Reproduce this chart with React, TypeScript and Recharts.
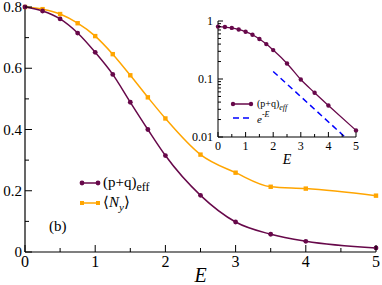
import React from 'react';
import { LineChart, Line, XAxis, YAxis, Label, Customized } from 'recharts';

// ---- data ----
const energies = [0, 0.25, 0.5, 0.75, 1, 1.25, 1.5, 1.75, 2, 2.5, 3, 3.5, 4, 5];
const pqEff = [0.8, 0.787, 0.761, 0.715, 0.652, 0.58, 0.489, 0.4, 0.315, 0.185, 0.098, 0.058, 0.035, 0.013];
const nY = [0.8, 0.793, 0.777, 0.747, 0.705, 0.646, 0.577, 0.505, 0.436, 0.318, 0.259, 0.213, 0.207, 0.184];
const expE = [2, 4.6];
const expVals = [0.135, 0.01];

const mainXTicks = [0, 0.5, 1, 1.5, 2, 2.5, 3, 3.5, 4, 4.5, 5];
const mainXMajors = [0, 1, 2, 3, 4, 5];
const mainYTicks = [0, 0.1, 0.2, 0.3, 0.4, 0.5, 0.6, 0.7, 0.8];
const mainYMajors = [0, 0.2, 0.4, 0.6, 0.8];
const insetXTicks = [0, 0.5, 1, 1.5, 2, 2.5, 3, 3.5, 4, 4.5, 5];
const insetXMajors = [0, 1, 2, 3, 4, 5];
const insetYTicks = [0.01, 0.02, 0.03, 0.04, 0.05, 0.06, 0.07, 0.08, 0.09, 0.1, 0.2, 0.3, 0.4, 0.5, 0.6, 0.7, 0.8, 0.9, 1];
const insetYMajors = [0.01, 0.1, 1];

const mainData = energies.map((e, i) => ({ E: e, pq: pqEff[i], ny: nY[i] }));
const insetData = energies.map((e, i) => ({ E: e, pq: pqEff[i] }));
const expData = expE.map((e, i) => ({ E: e, v: expVals[i] }));

const FONT = 'Liberation Serif';
const PURPLE = '#67084a';
const ORANGE = '#ffa500';
const BLUE = '#0000ff';

type Side = 'bottom' | 'top' | 'left' | 'right';
interface TickCfg {
  side: Side;
  edge: number;
  majors: number[];
  major: number;
  minor: number;
  fmt?: (v: number) => string;
  fontSize?: number;
  gap?: number;
}

function makeTick(cfg: TickCfg) {
  return (props: any) => {
    const c: number = props.payload.coordinate;
    const v: number = props.payload.value;
    const isMajor = cfg.majors.some((m) => Math.abs(m - v) < 1e-9);
    const len = isMajor ? cfg.major : cfg.minor;
    const fs = cfg.fontSize ?? 16;
    const gap = cfg.gap ?? 4;
    let line: React.ReactNode = null;
    let label: React.ReactNode = null;
    const showLabel = isMajor && cfg.fmt;
    if (cfg.side === 'bottom') {
      line = <line x1={c} x2={c} y1={cfg.edge} y2={cfg.edge - len} stroke="#000" strokeWidth={1} />;
      if (showLabel)
        label = (
          <text x={c} y={cfg.edge + gap} textAnchor="middle" fontSize={fs} fontFamily={FONT} fill="#000">
            {cfg.fmt!(v)}
          </text>
        );
    } else if (cfg.side === 'top') {
      line = <line x1={c} x2={c} y1={cfg.edge} y2={cfg.edge + len} stroke="#000" strokeWidth={1} />;
    } else if (cfg.side === 'left') {
      line = <line x1={cfg.edge} x2={cfg.edge + len} y1={c} y2={c} stroke="#000" strokeWidth={1} />;
      if (showLabel)
        label = (
          <text x={cfg.edge - gap} y={c + fs * 0.34} textAnchor="end" fontSize={fs} fontFamily={FONT} fill="#000">
            {cfg.fmt!(v)}
          </text>
        );
    } else {
      line = <line x1={cfg.edge} x2={cfg.edge - len} y1={c} y2={c} stroke="#000" strokeWidth={1} />;
    }
    return (
      <g key={`${cfg.side}-${v}`}>
        {line}
        {label}
      </g>
    );
  };
}

// main plot box
const ML = 25, MR = 376, MT = 7, MB = 252;
// inset plot box (inset chart coords)
const IL = 28, IR = 166, IT = 11, IB = 127;

const mainFmtY = (v: number) => (v === 0 ? '0' : v.toFixed(1));
const intFmt = (v: number) => String(v);
const logFmt = (v: number) => (v >= 1 ? '1' : v >= 0.1 ? '0.1' : '0.01');

const SquareDot = (props: any) => {
  const { cx, cy, index } = props;
  if (cx == null || cy == null) return <g key={`sq-${index}`} />;
  return <rect key={`sq-${index}`} x={cx - 2.2} y={cy - 2.2} width={4.4} height={4.4} fill={ORANGE} />;
};

const MainLegend = () => (
  <g fontFamily={FONT}>
    <line x1={82} x2={98} y1={183} y2={183} stroke={PURPLE} strokeWidth={1.5} />
    <circle cx={82} cy={183} r={2.4} fill={PURPLE} />
    <circle cx={98} cy={183} r={2.4} fill={PURPLE} />
    <text x={103} y={187} fontSize={15} fontFamily={FONT} fill="#000">
      (p+q)<tspan dy={4} fontSize={12}>eff</tspan>
    </text>
    <line x1={82} x2={98} y1={203} y2={203} stroke={ORANGE} strokeWidth={1.5} />
    <rect x={80} y={201} width={4} height={4} fill={ORANGE} />
    <rect x={96} y={201} width={4} height={4} fill={ORANGE} />
    <text x={103} y={207} fontSize={15} fontFamily={FONT} fill="#000">
      {'\u27E8'}
      <tspan fontStyle="italic">N</tspan>
      <tspan dy={4} fontSize={11} fontStyle="italic">y</tspan>
      <tspan dy={-4}>{'\u27E9'}</tspan>
    </text>
    <text x={49} y={231} fontSize={15} fontFamily={FONT} fill="#000">(b)</text>
  </g>
);

const InsetLegend = () => (
  <g fontFamily={FONT}>
    <line x1={43} x2={61} y1={94} y2={94} stroke={PURPLE} strokeWidth={1.5} />
    <circle cx={43} cy={94} r={2.2} fill={PURPLE} />
    <circle cx={61} cy={94} r={2.2} fill={PURPLE} />
    <text x={67} y={97} fontSize={10} fontFamily={FONT} fill="#000">
      (p+q)<tspan dy={3} fontSize={8} fontStyle="italic">eff</tspan>
    </text>
    <line x1={43} x2={61} y1={108} y2={108} stroke={BLUE} strokeWidth={1.5} strokeDasharray="6 4" />
    <text x={67} y={113} fontSize={11} fontFamily={FONT} fill="#000" fontStyle="italic">
      e<tspan dy={-6} fontSize={8}>-E</tspan>
    </text>
  </g>
);

export default function App() {
  return (
    <div style={{ position: 'absolute', left: 0, top: 0, width: 382, height: 285, background: '#fff', fontFamily: FONT }}>
      <LineChart width={382} height={285} data={mainData} margin={{ top: MT, right: 382 - MR, bottom: 0, left: 0 }}>
        <XAxis
          xAxisId="b"
          dataKey="E"
          type="number"
          domain={[0, 5]}
          ticks={mainXTicks}
          interval={0}
          height={285 - MB}
          tickLine={false}
          axisLine={{ stroke: '#000', strokeWidth: 1.2 }}
          tick={makeTick({ side: 'bottom', edge: MB, majors: mainXMajors, major: 7, minor: 4, fmt: intFmt, fontSize: 16, gap: 15 })}
        >
          <Label
            value="E"
            position="insideBottom"
            offset={3}
            style={{ fontFamily: FONT, fontSize: 20, fontStyle: 'italic', fill: '#000' }}
          />
        </XAxis>
        <XAxis
          xAxisId="t"
          orientation="top"
          type="number"
          domain={[0, 5]}
          ticks={mainXTicks}
          interval={0}
          height={0}
          tickLine={false}
          axisLine={{ stroke: '#000', strokeWidth: 1.2 }}
          tick={makeTick({ side: 'top', edge: MT, majors: mainXMajors, major: 7, minor: 4 })}
        />
        <YAxis
          yAxisId="l"
          type="number"
          domain={[0, 0.8]}
          ticks={mainYTicks}
          interval={0}
          width={ML}
          tickLine={false}
          axisLine={{ stroke: '#000', strokeWidth: 1.2 }}
          tick={makeTick({ side: 'left', edge: ML, majors: mainYMajors, major: 7, minor: 4, fmt: mainFmtY, fontSize: 15, gap: 3 })}
        />
        <YAxis
          yAxisId="r"
          orientation="right"
          type="number"
          domain={[0, 0.8]}
          ticks={mainYTicks}
          interval={0}
          width={0}
          tickLine={false}
          axisLine={{ stroke: '#000', strokeWidth: 1.2 }}
          tick={makeTick({ side: 'right', edge: MR, majors: mainYMajors, major: 7, minor: 4 })}
        />
        <Line
          xAxisId="b"
          yAxisId="l"
          dataKey="ny"
          stroke={ORANGE}
          strokeWidth={1.5}
          type="monotone"
          dot={SquareDot}
          isAnimationActive={false}
        />
        <Line
          xAxisId="b"
          yAxisId="l"
          dataKey="pq"
          stroke={PURPLE}
          strokeWidth={1.5}
          type="monotone"
          dot={{ r: 2.4, fill: PURPLE, stroke: PURPLE, strokeWidth: 0 }}
          isAnimationActive={false}
        />
        <Customized component={MainLegend} />
      </LineChart>

      <div style={{ position: 'absolute', left: 190, top: 10 }}>
        <LineChart width={170} height={157} margin={{ top: IT, right: 170 - IR, bottom: 0, left: 0 }}>
          <XAxis
            xAxisId="b"
            dataKey="E"
            type="number"
            domain={[0, 5]}
            ticks={insetXTicks}
            interval={0}
            height={157 - IB}
            tickLine={false}
            axisLine={{ stroke: '#000', strokeWidth: 1 }}
            tick={makeTick({ side: 'bottom', edge: IB, majors: insetXMajors, major: 5, minor: 3, fmt: intFmt, fontSize: 12, gap: 13 })}
          >
            <Label
              value="E"
              position="insideBottom"
              offset={3}
              style={{ fontFamily: FONT, fontSize: 14, fontStyle: 'italic', fill: '#000' }}
            />
          </XAxis>
          <XAxis
            xAxisId="t"
            orientation="top"
            type="number"
            domain={[0, 5]}
            ticks={insetXTicks}
            interval={0}
            height={0}
            tickLine={false}
            axisLine={{ stroke: '#000', strokeWidth: 1 }}
            tick={makeTick({ side: 'top', edge: IT, majors: insetXMajors, major: 5, minor: 3 })}
          />
          <YAxis
            yAxisId="l"
            type="number"
            scale="log"
            domain={[0.01, 1]}
            allowDataOverflow
            ticks={insetYTicks}
            interval={0}
            width={IL}
            tickLine={false}
            axisLine={{ stroke: '#000', strokeWidth: 1 }}
            tick={makeTick({ side: 'left', edge: IL, majors: insetYMajors, major: 5, minor: 3, fmt: logFmt, fontSize: 12, gap: 5 })}
          />
          <YAxis
            yAxisId="r"
            orientation="right"
            type="number"
            scale="log"
            domain={[0.01, 1]}
            allowDataOverflow
            ticks={insetYTicks}
            interval={0}
            width={0}
            tickLine={false}
            axisLine={{ stroke: '#000', strokeWidth: 1 }}
            tick={makeTick({ side: 'right', edge: IR, majors: insetYMajors, major: 5, minor: 3 })}
          />
          <Line
            xAxisId="b"
            yAxisId="l"
            data={expData}
            dataKey="v"
            stroke={BLUE}
            strokeWidth={1.5}
            strokeDasharray="6 4"
            type="linear"
            dot={false}
            isAnimationActive={false}
          />
          <Line
            xAxisId="b"
            yAxisId="l"
            data={insetData}
            dataKey="pq"
            stroke={PURPLE}
            strokeWidth={1.3}
            type="monotone"
            dot={{ r: 2.2, fill: PURPLE, stroke: PURPLE, strokeWidth: 0 }}
            isAnimationActive={false}
          />
          <Customized component={InsetLegend} />
        </LineChart>
      </div>
    </div>
  );
}
